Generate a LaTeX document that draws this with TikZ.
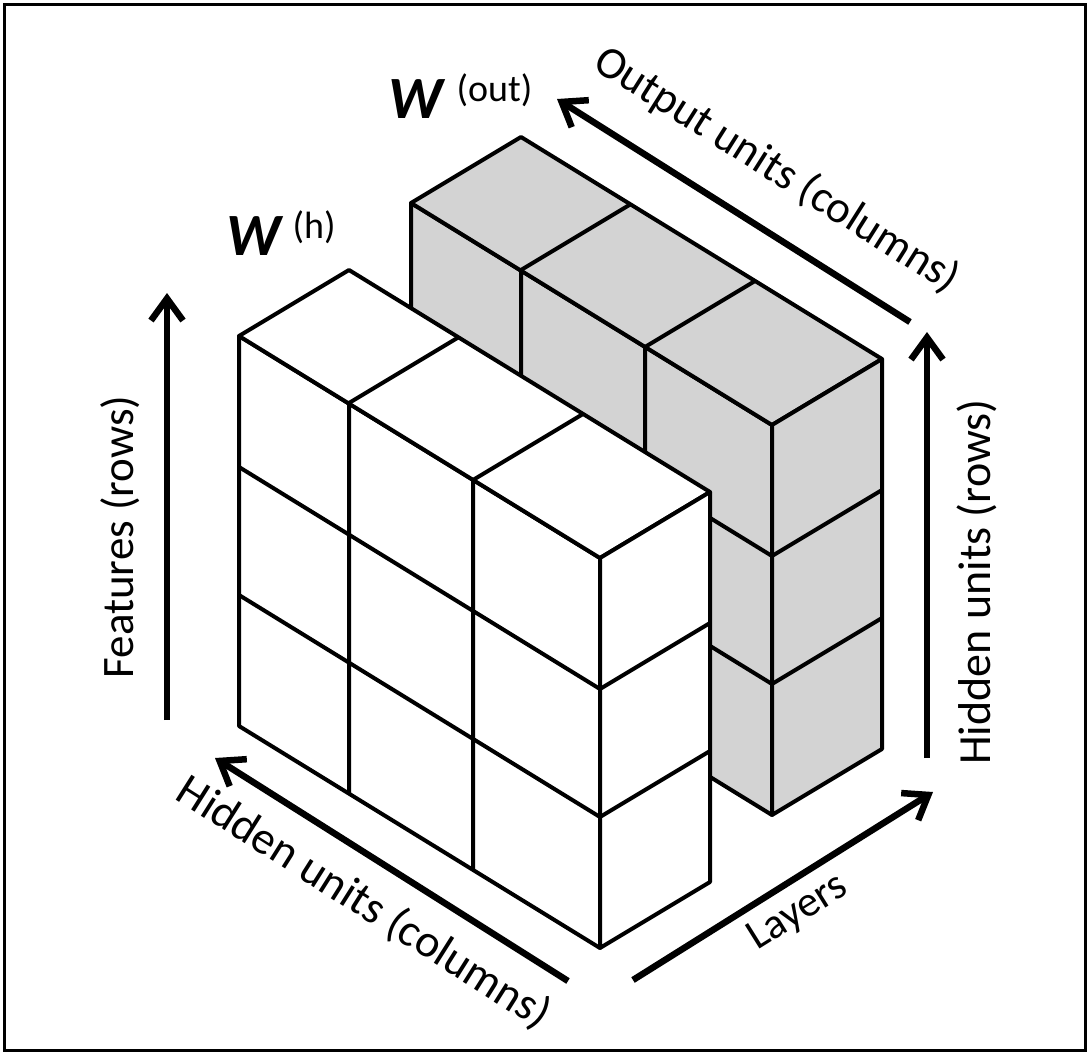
\documentclass[tikz,border=0pt]{standalone}
\usepackage{fontspec}
\setmainfont{Carlito}
\usetikzlibrary{arrows.meta}
\definecolor{blockgray}{RGB}{211,211,211}
\tikzset{
  edge/.style={line width=4pt, line join=round},
  axisarrow/.style={line width=6.5pt, -{Straight Barb[length=22pt,width=32pt]}},
  lab/.style={inner sep=0pt, font=\fontsize{45}{50}\selectfont},
}
% #1,#2 = origin (left-front-top corner), #3 = fill colour
\newcommand\drawblock[3]{%
  \begin{scope}[shift={(#1,#2)}, edge]
    \filldraw[fill=#3] (0,0) -- (361,222) -- (361,612) -- (0,390) -- cycle;
    \filldraw[fill=#3] (0,0) -- (110,-66) -- (471,156) -- (361,222) -- cycle;
    \filldraw[fill=#3] (361,222) -- (471,156) -- (471,546) -- (361,612) -- cycle;
    \foreach \cx/\cy in {110/67, 234/144}
      \draw (\cx,\cy+390) -- (\cx,\cy) -- ++(110,-66);
    \foreach \r in {131, 259}
      \draw (0,\r) -- (361,222+\r) -- (471,156+\r);
  \end{scope}}
\begin{document}
\begin{tikzpicture}[x=1pt, y=-1pt]
  \useasboundingbox (0,0) rectangle (1090,1055);
  \draw[line width=3pt] (4.5,4.5) rectangle (1085.5,1050.5);

  % blocks
  \drawblock{411}{203}{blockgray}
  \drawblock{239}{336}{white}

  % titles
  \node[anchor=base west, inner sep=0pt] (wout) at (388,118)
    {\fontsize{60}{60}\selectfont\bfseries\itshape W\hspace{14pt}\raisebox{17pt}{\fontsize{38}{40}\selectfont\mdseries\upshape (out)}};
  \node[anchor=base west, inner sep=0pt] (wh) at (226,255)
    {\fontsize{60}{60}\selectfont\bfseries\itshape W\hspace{12pt}\raisebox{17pt}{\fontsize{38}{40}\selectfont\mdseries\upshape (h)}};

  % arrow end points
  \coordinate (featS) at (167,720);
  \coordinate (featE) at (167,293);
  \coordinate (hrowS) at (927,758);
  \coordinate (hrowE) at (927,332);
  \coordinate (outS)  at (910,322);
  \coordinate (outE)  at (557,99);
  \coordinate (hcolS) at (568,981);
  \coordinate (hcolE) at (215,758);
  \coordinate (layS)  at (633,980);
  \coordinate (layE)  at (933,792);

  \draw[axisarrow] (featS) -- (featE);
  \draw[axisarrow] (hrowS) -- (hrowE);
  \draw[axisarrow] (outS) -- (outE);
  \draw[axisarrow] (hcolS) -- (hcolE);
  \draw[axisarrow] (layS) -- (layE);

  % axis labels
  \node[lab, rotate=90] (featL) at (120,537) {Features (rows)};
  \node[lab, rotate=90, font=\fontsize{46}{50}\selectfont] (hrowL) at (977,582) {Hidden units (rows)};
  \node[lab, rotate=-32.3] (outL) at (777,170) {Output units (columns)};
  \node[lab, rotate=-32.3, font=\fontsize{46}{50}\selectfont] (hcolL) at (364,903) {Hidden units (columns)};
  \node[lab, rotate=32, font=\fontsize{43}{46}\selectfont] (layL) at (798,913) {Layers};
\end{tikzpicture}
\end{document}
